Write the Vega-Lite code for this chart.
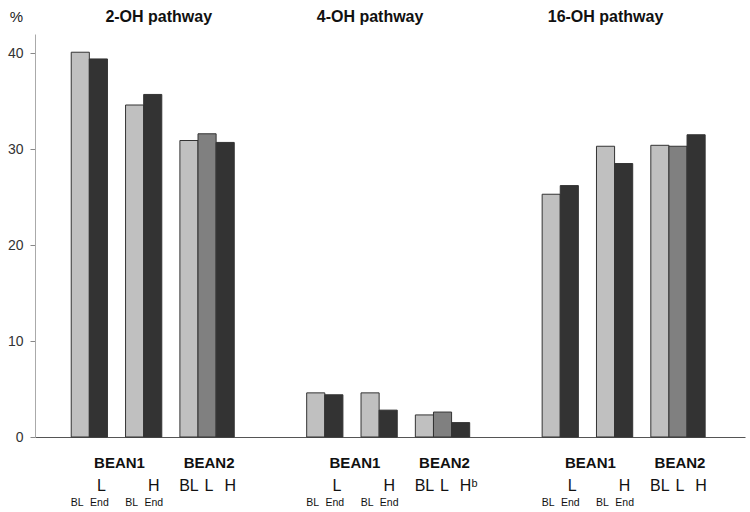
{
  "$schema": "https://vega.github.io/schema/vega-lite/v6.json",
  "autosize": {"type": "none"},
  "width": 710,
  "height": 403,
  "padding": {"left": 35, "top": 34, "right": 5, "bottom": 75},
  "config": {
    "view": {"stroke": null},
    "font": "Liberation Sans",
    "axis": {"labelFont": "Liberation Sans", "titleFont": "Liberation Sans", "grid": false}
  },
  "data": {
    "values": [
      {"pathway": "2-OH", "study": "BEAN1", "arm": "BL", "bar": "2OH B1 L BL", "value": 40.1},
      {"pathway": "2-OH", "study": "BEAN1", "arm": "End", "bar": "2OH B1 L End", "value": 39.4},
      {"pathway": "2-OH", "study": "BEAN1", "arm": "BL", "bar": "2OH B1 H BL", "value": 34.6},
      {"pathway": "2-OH", "study": "BEAN1", "arm": "End", "bar": "2OH B1 H End", "value": 35.7},
      {"pathway": "2-OH", "study": "BEAN2", "arm": "BL", "bar": "2OH B2 BL", "value": 30.9},
      {"pathway": "2-OH", "study": "BEAN2", "arm": "L", "bar": "2OH B2 L", "value": 31.6},
      {"pathway": "2-OH", "study": "BEAN2", "arm": "H", "bar": "2OH B2 H", "value": 30.7},
      {"pathway": "4-OH", "study": "BEAN1", "arm": "BL", "bar": "4OH B1 L BL", "value": 4.6},
      {"pathway": "4-OH", "study": "BEAN1", "arm": "End", "bar": "4OH B1 L End", "value": 4.4},
      {"pathway": "4-OH", "study": "BEAN1", "arm": "BL", "bar": "4OH B1 H BL", "value": 4.6},
      {"pathway": "4-OH", "study": "BEAN1", "arm": "End", "bar": "4OH B1 H End", "value": 2.8},
      {"pathway": "4-OH", "study": "BEAN2", "arm": "BL", "bar": "4OH B2 BL", "value": 2.3},
      {"pathway": "4-OH", "study": "BEAN2", "arm": "L", "bar": "4OH B2 L", "value": 2.6},
      {"pathway": "4-OH", "study": "BEAN2", "arm": "H", "bar": "4OH B2 H", "value": 1.5},
      {"pathway": "16-OH", "study": "BEAN1", "arm": "BL", "bar": "16OH B1 L BL", "value": 25.3},
      {"pathway": "16-OH", "study": "BEAN1", "arm": "End", "bar": "16OH B1 L End", "value": 26.2},
      {"pathway": "16-OH", "study": "BEAN1", "arm": "BL", "bar": "16OH B1 H BL", "value": 30.3},
      {"pathway": "16-OH", "study": "BEAN1", "arm": "End", "bar": "16OH B1 H End", "value": 28.5},
      {"pathway": "16-OH", "study": "BEAN2", "arm": "BL", "bar": "16OH B2 BL", "value": 30.4},
      {"pathway": "16-OH", "study": "BEAN2", "arm": "L", "bar": "16OH B2 L", "value": 30.3},
      {"pathway": "16-OH", "study": "BEAN2", "arm": "H", "bar": "16OH B2 H", "value": 31.5}
    ]
  },
  "resolve": {"scale": {"x": "shared"}, "axis": {"x": "independent"}},
  "layer": [
    {
      "mark": {"type": "bar", "stroke": "#333333", "strokeWidth": 1},
      "encoding": {
        "x": {
          "field": "bar",
          "type": "nominal",
          "scale": {
            "domain": [
              "left1", "left2",
              "2OH B1 L BL", "2OH B1 L End", "2OH B1", "2OH B1 H BL", "2OH B1 H End", "2OH sep", "2OH B2 BL", "2OH B2 L", "2OH B2 H",
              "gapA1", "gapA2", "gapA3", "gapA4",
              "4OH B1 L BL", "4OH B1 L End", "4OH B1", "4OH B1 H BL", "4OH B1 H End", "4OH sep", "4OH B2 BL", "4OH B2 L", "4OH B2 H",
              "gapB1", "gapB2", "gapB3", "gapB4",
              "16OH B1 L BL", "16OH B1 L End", "16OH B1", "16OH B1 H BL", "16OH B1 H End", "16OH sep", "16OH B2 BL", "16OH B2 L", "16OH B2 H",
              "right1", "right2"
            ],
            "paddingInner": 0,
            "paddingOuter": 0.1,
            "align": 0
          },
          "axis": {
            "orient": "bottom",
            "title": null,
            "domain": true,
            "domainColor": "#555555",
            "domainWidth": 1,
            "ticks": false,
            "tickSize": 0,
            "labelAngle": 0,
            "labelOverlap": false,
            "labelBaseline": "alphabetic",
            "labelPadding": 68,
            "labelFontSize": 10.5,
            "labelColor": "#111111",
            "labelExpr": "length(split(datum.value, ' ')) == 4 ? peek(split(datum.value, ' ')) : ''",
            "labelOffset": {"expr": "peek(split(datum.value, ' ')) == 'BL' ? -3 : 1"}
          }
        },
        "y": {
          "field": "value",
          "type": "quantitative",
          "scale": {"domain": [0, 42], "nice": false, "zero": true},
          "axis": {
            "values": [0, 10, 20, 30, 40],
            "domainColor": "#aaaaaa",
            "tickColor": "#888888",
            "tickSize": 5,
            "labelFontSize": 14,
            "labelColor": "#333333",
            "labelPadding": 7,
            "title": "%",
            "titleAngle": 0,
            "titleFontSize": 15,
            "titleFontWeight": "normal",
            "titleColor": "#222222",
            "titleAlign": "center",
            "titleBaseline": "alphabetic",
            "titleX": -19,
            "titleY": -13
          }
        },
        "color": {
          "field": "arm",
          "type": "nominal",
          "scale": {"domain": ["BL", "End", "L", "H"], "range": ["#c0c0c0", "#333333", "#808080", "#333333"]},
          "legend": null
        }
      }
    },
    {
      "mark": {"type": "bar", "opacity": 0},
      "encoding": {
        "x": {
          "field": "bar",
          "type": "nominal",
          "axis": {
            "orient": "bottom",
            "title": null,
            "domain": false,
            "ticks": false,
            "tickSize": 0,
            "labelAngle": 0,
            "labelOverlap": false,
            "labelBaseline": "alphabetic",
            "labelPadding": 30,
            "labelFontSize": 15,
            "labelFontWeight": "bold",
            "labelColor": "#111111",
            "labelExpr": "length(split(datum.value, ' ')) == 2 && split(datum.value, ' ')[1] == 'B1' ? 'BEAN1' : (length(split(datum.value, ' ')) == 3 && split(datum.value, ' ')[1] == 'B2' && peek(split(datum.value, ' ')) == 'L' ? 'BEAN2' : '')",
            "labelOffset": {"expr": "length(split(datum.value, ' ')) == 2 ? 3 : 2"}
          }
        }
      }
    },
    {
      "mark": {"type": "bar", "opacity": 0},
      "encoding": {
        "x": {
          "field": "bar",
          "type": "nominal",
          "axis": {
            "orient": "bottom",
            "title": null,
            "domain": false,
            "ticks": false,
            "tickSize": 0,
            "bandPosition": 0,
            "labelAngle": 0,
            "labelOverlap": false,
            "labelBaseline": "alphabetic",
            "labelPadding": 53,
            "labelFontSize": 16,
            "labelColor": "#111111",
            "labelExpr": "length(split(datum.value, ' ')) == 4 && peek(split(datum.value, ' ')) == 'End' ? split(datum.value, ' ')[2] : ''",
            "labelOffset": {"expr": "split(datum.value, ' ')[2] == 'L' ? 3 : 1"}
          }
        }
      }
    },
    {
      "mark": {"type": "bar", "opacity": 0},
      "encoding": {
        "x": {
          "field": "bar",
          "type": "nominal",
          "axis": {
            "orient": "bottom",
            "title": null,
            "domain": false,
            "ticks": false,
            "tickSize": 0,
            "labelAngle": 0,
            "labelOverlap": false,
            "labelBaseline": "alphabetic",
            "labelPadding": 53,
            "labelFontSize": 16,
            "labelColor": "#111111",
            "labelExpr": "length(split(datum.value, ' ')) == 3 && split(datum.value, ' ')[1] == 'B2' ? (datum.value == '4OH B2 H' ? 'Hᵇ' : peek(split(datum.value, ' '))) : ''",
            "labelOffset": {"expr": "datum.value == '4OH B2 H' ? 8 : (peek(split(datum.value, ' ')) == 'H' ? 5 : (peek(split(datum.value, ' ')) == 'L' ? 2 : 0))"}
          }
        }
      }
    },
    {
      "mark": {"type": "bar", "opacity": 0},
      "encoding": {
        "x": {
          "field": "bar",
          "type": "nominal",
          "axis": {
            "orient": "top",
            "title": null,
            "domain": false,
            "ticks": false,
            "tickSize": 0,
            "labelAngle": 0,
            "labelOverlap": false,
            "labelBaseline": "alphabetic",
            "labelPadding": 13,
            "labelFontSize": 16,
            "labelFontWeight": "bold",
            "labelColor": "#111111",
            "labelExpr": "datum.value == '2OH B1 H End' ? '2-OH pathway' : (datum.value == '4OH B1 H BL' ? '4-OH pathway' : (datum.value == '16OH B1 H BL' ? '16-OH pathway' : ''))",
            "labelOffset": {"expr": "datum.value == '2OH B1 H End' ? 6 : 0"}
          }
        }
      }
    }
  ]
}
